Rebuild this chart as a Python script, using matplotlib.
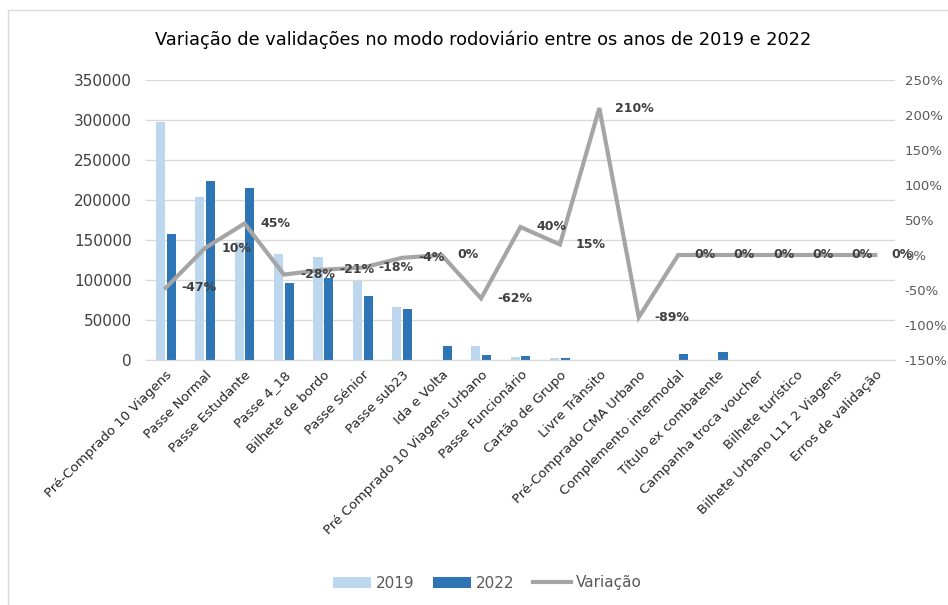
import numpy as np
import matplotlib
matplotlib.use("Agg")
import matplotlib.pyplot as plt
from matplotlib.patches import Rectangle
from matplotlib.ticker import FuncFormatter, MultipleLocator

categories = [
    "Pré-Comprado 10 Viagens", "Passe Normal", "Passe Estudante", "Passe 4_18",
    "Bilhete de bordo", "Passe Sénior", "Passe sub23", "Ida e Volta",
    "Pré Comprado 10 Viagens Urbano", "Passe Funcionário", "Cartão de Grupo",
    "Livre Trânsito", "Pré-Comprado CMA Urbano", "Complemento intermodal",
    "Título ex combatente", "Campanha troca voucher", "Bilhete turístico",
    "Bilhete Urbano L11 2 Viagens", "Erros de validação",
]
val_2019 = [298000, 203500, 148000, 132000, 128500, 98800, 66300, 0,
            17500, 3700, 2500, 200, 300, 0, 0, 0, 0, 0, 0]
val_2022 = [157000, 223500, 214500, 96000, 102000, 80500, 63700, 17100,
            6600, 5200, 2900, 620, 33, 7100, 9600, 0, 0, 0, 0]
variacao = [-47, 10, 45, -28, -21, -18, -4, 0, -62, 40, 15, 210, -89,
            0, 0, 0, 0, 0, 0]

c2019 = "#BDD7EE"
c2022 = "#2E75B6"
cline = "#A5A5A5"
grid_c = "#D9D9D9"

fig = plt.figure(figsize=(9.48, 6.05), dpi=100)
ax = fig.add_axes([146 / 948, 1 - 360 / 605, (895 - 146) / 948, 280 / 605])

x = np.arange(len(categories))
off = 0.137
w = 0.23
ax.bar(x - off, val_2019, w, color=c2019, label="2019", zorder=2)
ax.bar(x + off, val_2022, w, color=c2022, label="2022", zorder=2)

ax.set_xlim(-0.5, len(categories) - 0.5)
ax.set_ylim(0, 350000)
ax.yaxis.set_major_locator(MultipleLocator(50000))
ax.grid(axis="y", color=grid_c, lw=1, zorder=0)
ax.set_axisbelow(True)
for s in ["top", "left", "right"]:
    ax.spines[s].set_visible(False)
ax.spines["bottom"].set_color(grid_c)
ax.tick_params(axis="both", length=0)
ax.tick_params(axis="y", labelsize=11, labelcolor="#404040", pad=10)
ax.set_xticks(x)
ax.set_xticklabels(categories, rotation=45, ha="right", va="top",
                   rotation_mode="anchor", fontsize=9.5, color="#262626")
ax.tick_params(axis="x", pad=6)

ax2 = ax.twinx()
pct = np.array(variacao) / 100.0
ax2.plot(x, pct, color=cline, lw=3, label="Variação", zorder=3,
         solid_joinstyle="miter")
ax2.set_ylim(-1.5, 2.5)
ax2.yaxis.set_major_locator(MultipleLocator(0.5))
ax2.yaxis.set_major_formatter(FuncFormatter(lambda v, p: f"{v * 100:.0f}%"))
ax2.tick_params(axis="y", length=0, labelsize=9.5, labelcolor="#595959", pad=7)
for s in ["top", "left", "right", "bottom"]:
    ax2.spines[s].set_visible(False)

for xi, v in zip(x, variacao):
    ax2.annotate(f"{v}%", (xi, v / 100.0), xytext=(11.5, 0),
                 textcoords="offset points", ha="left", va="center",
                 fontsize=9, fontweight="bold", color="#404040", zorder=4)

fig.text(0.51, 1 - 40 / 605,
         "Variação de validações no modo rodoviário entre os anos de 2019 e 2022",
         ha="center", va="center", fontsize=12.8, color="black")

h1, l1 = ax.get_legend_handles_labels()
h2, l2 = ax2.get_legend_handles_labels()
fig.legend(h1 + h2, l1 + l2, loc="center", bbox_to_anchor=(0.514, 1 - 583 / 605),
           ncol=3, frameon=False, fontsize=11, labelcolor="#595959",
           handlelength=2.5, handleheight=0.7, columnspacing=1.2, handletextpad=0.3)

fig.add_artist(Rectangle((8 / 948, -0.05), 1.0, (1 - 10 / 605) + 0.05,
                         transform=fig.transFigure, fill=False,
                         edgecolor="#D9D9D9", lw=1))

fig.savefig("out.png", dpi=100)
